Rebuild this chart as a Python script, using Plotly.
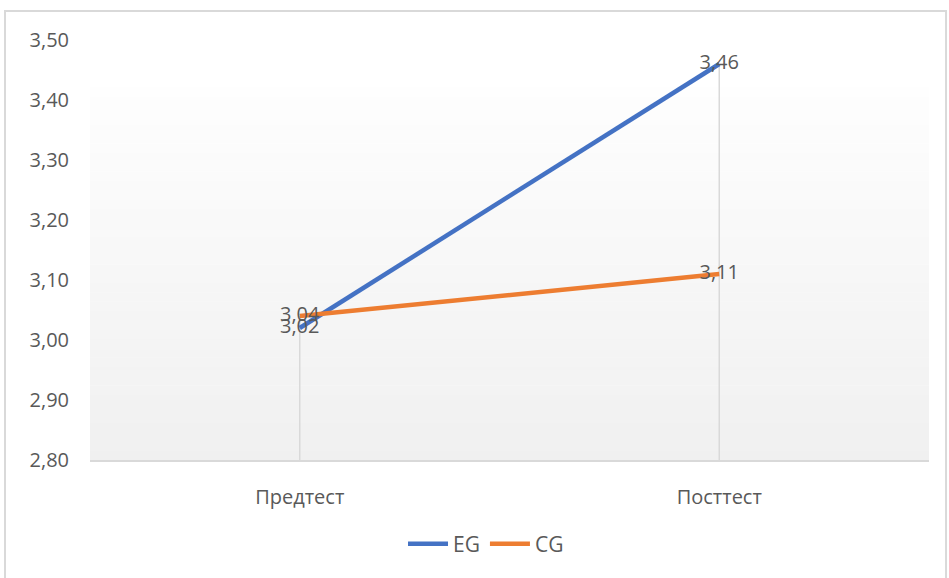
import plotly.graph_objects as go

categories = ["Предтест", "Посттест"]
eg_values = [3.02, 3.46]
cg_values = [3.04, 3.11]
series_names = ["EG", "CG"]
y_ticks = [2.80, 2.90, 3.00, 3.10, 3.20, 3.30, 3.40, 3.50]

BLUE = "#4472C4"
ORANGE = "#ED7D31"
TXT = "#595959"
GRID = "#D9D9D9"
FONT = "Open Sans"

fig = go.Figure()
x_idx = list(range(len(categories)))

for name, vals, col in [(series_names[0], eg_values, BLUE), (series_names[1], cg_values, ORANGE)]:
    fig.add_trace(go.Scatter(x=x_idx, y=vals, mode="lines", name=name,
                             line=dict(color=col, width=4.5), hoverinfo="skip"))
for name, vals in [(series_names[0], eg_values), (series_names[1], cg_values)]:
    fig.add_trace(go.Scatter(x=x_idx, y=vals, mode="text", showlegend=False,
                             texttemplate="%{y:.2f}", textposition="middle center",
                             textfont=dict(family=FONT, size=20, color=TXT), hoverinfo="skip"))

shapes = []
# gradient background bands (plot area): darker at bottom, near-white at top
top_frac = 0.886
n = 40
c_top, c_bot = 0xFE, 0xF0
for i in range(n):
    f0 = top_frac * i / n
    f1 = top_frac * (i + 1) / n
    t = (i + 0.5) / n
    v = int(round(c_bot + (c_top - c_bot) * t))
    col = "#%02x%02x%02x" % (v, v, v)
    shapes.append(dict(type="rect", xref="x domain", yref="y domain", x0=0, x1=1, y0=f0, y1=f1 + 0.001,
                       fillcolor=col, line=dict(width=0), layer="below"))
# drop lines
for i in x_idx:
    shapes.append(dict(type="line", xref="x", yref="y", x0=i, x1=i, y0=y_ticks[0],
                       y1=max(eg_values[i], cg_values[i]), line=dict(color=GRID, width=1.5), layer="below"))
# chart border
shapes.append(dict(type="rect", xref="paper", yref="paper", x0=-0.1013, x1=1.0203, y0=-0.31, y1=1.069,
                   line=dict(color=GRID, width=2), fillcolor="rgba(0,0,0,0)", layer="below"))

fig.update_layout(
    width=949, height=578,
    margin=dict(l=90, r=20, t=40, b=118),
    paper_bgcolor="white", plot_bgcolor="white",
    separators=", ",
    font=dict(family=FONT, size=20, color=TXT),
    shapes=shapes,
    showlegend=True,
    legend=dict(orientation="h", x=0.472, xanchor="center", y=-0.2, yanchor="middle",
                font=dict(family=FONT, size=21, color=TXT), itemwidth=40, traceorder="normal"),
    xaxis=dict(range=[-0.5, 1.5], tickvals=x_idx, ticktext=categories, showgrid=False,
               zeroline=False, showline=True, linecolor=GRID, linewidth=1.5, ticks="",
               ticklabelstandoff=18, tickfont=dict(family=FONT, size=20, color=TXT)),
    yaxis=dict(range=[y_ticks[0], y_ticks[-1]], tickvals=y_ticks, tickformat=".2f", showgrid=False,
               zeroline=False, showline=False, ticks="", ticklabelstandoff=20,
               tickfont=dict(family=FONT, size=20, color=TXT)),
)

fig.write_html("out.html")
